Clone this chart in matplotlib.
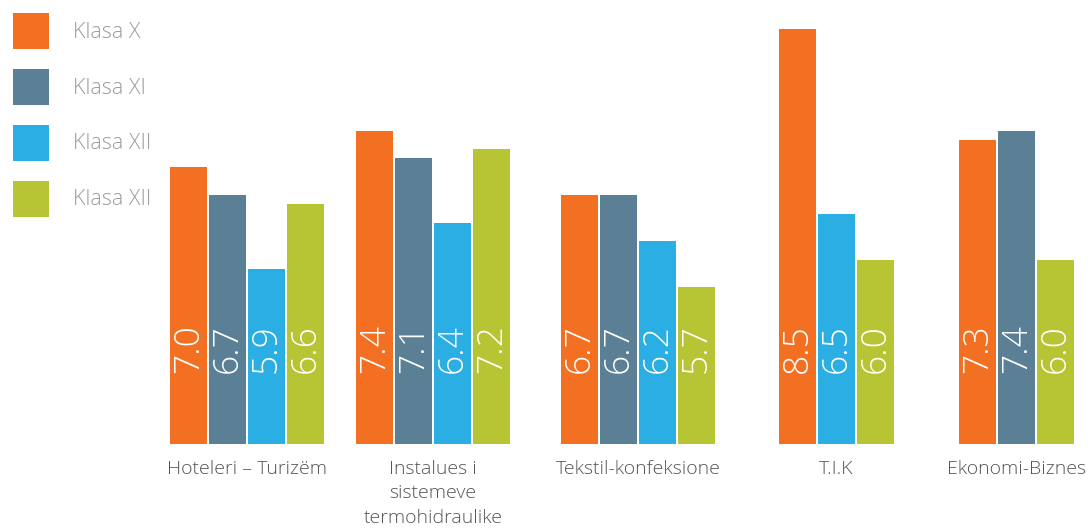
import matplotlib
matplotlib.use("Agg")
import matplotlib.pyplot as plt
from matplotlib.patches import Rectangle

# ---- data ----
categories = ["Hoteleri – Turizëm", "Instalues i\nsistemeve\ntermohidraulike",
              "Tekstil-konfeksione", "T.I.K", "Ekonomi-Biznes"]
series_names = ["Klasa X", "Klasa XI", "Klasa XII", "Klasa XII"]
klasa_x   = [7.0, 7.4, 6.7, 8.5, 7.3]
klasa_xi  = [6.7, 7.1, 6.7, None, 7.4]
klasa_xii = [5.9, 6.4, 6.2, 6.5, None]
klasa_xii_b = [6.6, 7.2, 5.7, 6.0, 6.0]
series = [klasa_x, klasa_xi, klasa_xii, klasa_xii_b]

# ---- style / layout ----
colors = ["#F37022", "#5B7F94", "#2AAEE3", "#B7C434"]
W, H = 1090, 531
group_centers = [247, 433, 638, 836.5, 1016.5]   # px layout
bar_w, pitch = 37, 39
base = 4.0
px_per_unit = 92.2
base_px_from_bottom = 87

fig = plt.figure(figsize=(W / 100, H / 100), dpi=100)
ax = fig.add_axes([0, 0, 1, 1])
ax.set_xlim(0, W)
ylo = base - base_px_from_bottom / px_per_unit
yhi = ylo + H / px_per_unit
ax.set_ylim(ylo, yhi)
ax.axis("off")

font = "Open Sans"
label_y = base + (444 - 348.5) / px_per_unit

for gi, cx in enumerate(group_centers):
    present = [(si, s[gi]) for si, s in enumerate(series) if s[gi] is not None]
    n = len(present)
    start = cx - (n - 1) * pitch / 2
    for k, (si, v) in enumerate(present):
        x = start + k * pitch
        ax.bar(x, v - base, bottom=base, width=bar_w, color=colors[si], linewidth=0)
        ax.text(x, label_y, f"{v:.1f}", rotation=90, ha="center", va="center",
                color="white", fontsize=25.5, family=font, fontweight="light")
    ax.text(cx, base - (460 - 444) / px_per_unit, categories[gi], ha="center", va="top",
            color="#555555", fontsize=14, family=font, fontweight="light",
            linespacing=1.45)

# legend
for i, name in enumerate(series_names):
    top = 13 + i * 56
    fig.add_artist(Rectangle((13 / W, 1 - (top + 36) / H), 36 / W, 36 / H,
                             transform=fig.transFigure, color=colors[i], linewidth=0))
    fig.text(73 / W, 1 - (top + 19) / H, name, ha="left", va="center",
             color="#9c9c9c", fontsize=15.5, family=font, fontweight="light")

fig.savefig("out.png", dpi=100, facecolor="white")
